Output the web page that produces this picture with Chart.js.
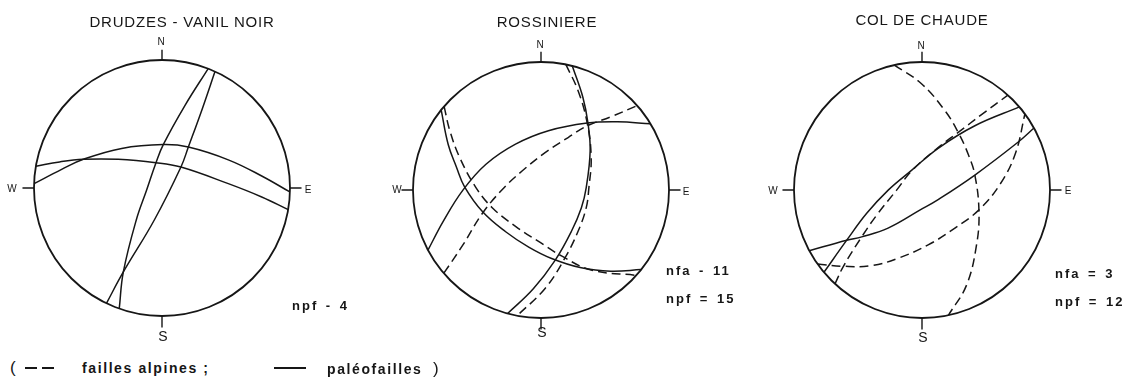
<!DOCTYPE html>
<html lang="fr">
<head>
<meta charset="utf-8">
<title>Stéréogrammes des failles</title>
<script src="https://cdn.jsdelivr.net/npm/chart.js@4.4.1/dist/chart.umd.min.js"></script>
<style>
  body { margin: 0; background: #fff; }
  #page { position: relative; width: 1133px; height: 388px; overflow: hidden;
          font-family: "Liberation Sans", Arial, sans-serif; color: #161616; }
  .net { position: absolute; width: 320px; height: 320px; }
  .lbl { position: absolute; white-space: nowrap; line-height: 1; transform: translate(-50%, -50%); }
  .title { font-size: 15px; letter-spacing: 0.8px; }
  .card { font-size: 10px; }
  .card.big { font-size: 14px; }
  .stat { position: absolute; white-space: nowrap; line-height: 1; transform: translateY(-50%);
          font-size: 13px; font-weight: bold; letter-spacing: 2px; word-spacing: 2px; }
  .key { position: absolute; white-space: nowrap; line-height: 1; transform: translateY(-50%);
         font-size: 14px; font-weight: bold; letter-spacing: 1.6px; }
  .bar { position: absolute; height: 2px; background: #161616; }
</style>
</head>
<body>
<div id="page">
  <canvas id="net1" class="net" width="320" height="320" style="left:2px;top:28px"></canvas>
  <canvas id="net2" class="net" width="320" height="320" style="left:381px;top:30px"></canvas>
  <canvas id="net3" class="net" width="320" height="320" style="left:762px;top:30px"></canvas>

  <div class="lbl title" style="left:182px;top:21px">DRUDZES - VANIL NOIR</div>
  <div class="lbl title" style="left:547px;top:21px">ROSSINIERE</div>
  <div class="lbl title" style="left:922px;top:19px">COL DE CHAUDE</div>

  <div class="lbl card" style="left:161px;top:42px">N</div>
  <div class="lbl card big" style="left:163px;top:336px">S</div>
  <div class="lbl card" style="left:12px;top:189px">W</div>
  <div class="lbl card" style="left:308px;top:190px">E</div>

  <div class="lbl card" style="left:540px;top:45px">N</div>
  <div class="lbl card big" style="left:542px;top:332px">S</div>
  <div class="lbl card" style="left:397px;top:190px">W</div>
  <div class="lbl card" style="left:686px;top:192px">E</div>

  <div class="lbl card" style="left:921px;top:46px">N</div>
  <div class="lbl card big" style="left:923px;top:337px">S</div>
  <div class="lbl card" style="left:773px;top:191px">W</div>
  <div class="lbl card" style="left:1068px;top:191px">E</div>

  <div class="stat" style="left:292px;top:305px">npf - 4</div>
  <div class="stat" style="left:666px;top:270px">nfa - 11</div>
  <div class="stat" style="left:666px;top:298px">npf = 15</div>
  <div class="stat" style="left:1055px;top:273px">nfa = 3</div>
  <div class="stat" style="left:1055px;top:301px">npf = 12</div>

  <div class="key" style="left:10px;top:367px;font-size:17px;font-weight:normal">(</div>
  <div class="bar" style="left:25px;top:367px;width:12px"></div>
  <div class="bar" style="left:42px;top:367px;width:12px"></div>
  <div class="key" style="left:82px;top:368px">failles alpines ;</div>
  <div class="bar" style="left:274px;top:367px;width:32px"></div>
  <div class="key" style="left:327px;top:368px;word-spacing:5px">paléofailles <span style="font-weight:normal;font-size:17px">)</span></div>
</div>

<script>
// coordonnées sur le canevas : x vers l'est, y vers le nord, cercle primitif = 100

// DRUDZES - VANIL NOIR (paléofailles seulement)
const drudzesPaleoA = [[36.1, 93.3], [18, 64.6], [1, 33.9], [-4.7, 19.8], [-12, -1.6], [-20.1, -25], [-30.2, -65.6], [-33.4, -94.3]];
const drudzesPaleoB = [[41.4, 91], [31.5, 62], [20.6, 32], [14.8, 16.4], [-6, -25], [-30.2, -65.6], [-43.4, -90.1]];
const drudzesPaleoC = [[-99.9, 3.4], [-78.4, 14.5], [-61.5, 22.4], [-31.5, 30.9], [1, 33.9], [20.6, 32], [51.8, 22], [77.9, 9.4], [99.9, -3.1]];
const drudzesPaleoD = [[-98.5, 17], [-80, 20.4], [-61.5, 22.4], [-34.1, 22.4], [-4.7, 19.8], [14.8, 16.4], [51.8, 3.4], [77.9, -7], [98.6, -16.9]];

// ROSSINIERE
const rossPaleoA = [[-78, 62.6], [-72.5, 35.5], [-66.1, 18], [-59.7, 2.5], [-45.6, -17], [-27.6, -32.6], [-9.6, -44.6], [8.3, -53.5], [31.5, -60.8], [54.6, -63.4], [78.3, -62.2]];
const rossPaleoB = [[-88.3, -47], [-76.4, -24.5], [-61, -0.1], [-43, 20.1], [-19.9, 35.8], [5.8, 46.3], [36.1, 52.3], [59.7, 53.3], [85.6, 51.7]];
const rossPaleoC = [[24.4, 97], [32.7, 72.5], [36.6, 52.8], [38.4, 30.5], [35.3, 1.7], [31.5, -14], [23.7, -32.4], [11, -55], [-6, -77.2], [-26.1, -96.5]];
const rossAlpineA = [[-75.7, 65.3], [-71.2, 46.3], [-63.5, 25.3], [-50.7, 1.7], [-37.9, -14], [-19.9, -28.4], [-1.9, -40.2], [16, -51.5], [39.2, -62.5], [74.5, -66.7]];
const rossAlpineB = [[-75.9, -65], [-61, -42.9], [-45.6, -18], [-30.2, 0.4], [-14.8, 14.8], [3.2, 29.2], [21.2, 41], [36.1, 50.1], [54.6, 57.2], [75.2, 65.9]];
const rossAlpineC = [[19.4, 98.1], [28.9, 77.7], [36.1, 52.3], [39.2, 25.3], [37.4, 1.7], [35.3, -14], [28.9, -32.4], [18.6, -53.3], [3.2, -76.9], [-18.7, -98.3]];

// COL DE CHAUDE
const chaudePaleoA = [[-76.6, -64.3], [-58.8, -39.2], [-43.2, -18.2], [-26.2, 0.1], [-8.2, 15.3], [12.6, 32.6], [41.3, 50.2], [76.1, 64.9]];
const chaudePaleoB = [[-88.1, -47.4], [-58.8, -39.2], [-47.1, -36.6], [-26.5, -29.8], [-1.4, -15.6], [12.6, -7.5], [41.3, 11.7], [75.2, 37.5], [87.5, 48.4]];
const chaudeAlpineA = [[-21.6, 97.6], [-0.4, 83], [17.9, 62], [28.3, 45], [36.1, 27.9], [41.3, 11.7], [44.5, -16.6], [42.6, -42.9], [34.8, -74.3], [20.6, -97.9]];
const chaudeAlpineB = [[-81.5, -57.9], [-61.4, -59.6], [-39.5, -59.1], [-18.6, -53.3], [4.8, -42.9], [25.7, -29.8], [44.5, -15.5], [61.1, 4.7], [73.1, 28.9], [80.4, 59.4]];
const chaudeAlpineC = [[-68, -73.4], [-61.4, -59.6], [-47.1, -36.6], [-35.3, -19.5], [-19.7, 0.1], [-8.2, 14.8], [12.6, 33.2], [28.3, 45], [46.5, 58.9], [67.1, 74.1]];

const INK = '#161616';

// cercle primitif + repères N E S W, tracés depuis les échelles du graphique
const netFrame = {
    id: 'netFrame',
    beforeDatasetsDraw(chart) {
        const { ctx, scales: { x, y } } = chart;
        const cx = x.getPixelForValue(0);
        const cy = y.getPixelForValue(0);
        const r = x.getPixelForValue(100) - cx;
        ctx.save();
        ctx.strokeStyle = INK;
        ctx.lineWidth = 1.8;
        ctx.beginPath();
        ctx.arc(cx, cy, r, 0, Math.PI * 2);
        ctx.stroke();
        ctx.lineWidth = 1.4;
        ctx.beginPath();
        ctx.moveTo(cx, y.getPixelForValue(100)); ctx.lineTo(cx, y.getPixelForValue(108));
        ctx.moveTo(cx, y.getPixelForValue(-100)); ctx.lineTo(cx, y.getPixelForValue(-109));
        ctx.moveTo(x.getPixelForValue(100), cy); ctx.lineTo(x.getPixelForValue(109), cy);
        ctx.moveTo(x.getPixelForValue(-100), cy); ctx.lineTo(x.getPixelForValue(-109), cy);
        ctx.stroke();
        ctx.restore();
    }
};

function arcDataset(arc, alpine) {
    return {
        data: arc.map(([x, y]) => ({ x, y })),
        showLine: true,
        borderColor: INK,
        borderWidth: 1.5,
        borderDash: alpine ? [9, 5] : [],
        tension: 0.4,
        pointRadius: 0,
        pointHoverRadius: 0,
        fill: false
    };
}

function drawNet(id, paleo, alpine) {
    const datasets = paleo.map(a => arcDataset(a, false))
        .concat(alpine.map(a => arcDataset(a, true)));
    return new Chart(document.getElementById(id), {
        type: 'scatter',
        data: { datasets },
        options: {
            responsive: false,
            animation: false,
            devicePixelRatio: 1,
            events: [],
            layout: { padding: 0 },
            plugins: { legend: { display: false }, tooltip: { enabled: false } },
            scales: {
                x: { type: 'linear', min: -125, max: 125, display: false },
                y: { type: 'linear', min: -125, max: 125, display: false }
            }
        },
        plugins: [netFrame]
    });
}

drawNet('net1', [drudzesPaleoA, drudzesPaleoB, drudzesPaleoC, drudzesPaleoD], []);
drawNet('net2', [rossPaleoA, rossPaleoB, rossPaleoC], [rossAlpineA, rossAlpineB, rossAlpineC]);
drawNet('net3', [chaudePaleoA, chaudePaleoB], [chaudeAlpineA, chaudeAlpineB, chaudeAlpineC]);
</script>
</body>
</html>
